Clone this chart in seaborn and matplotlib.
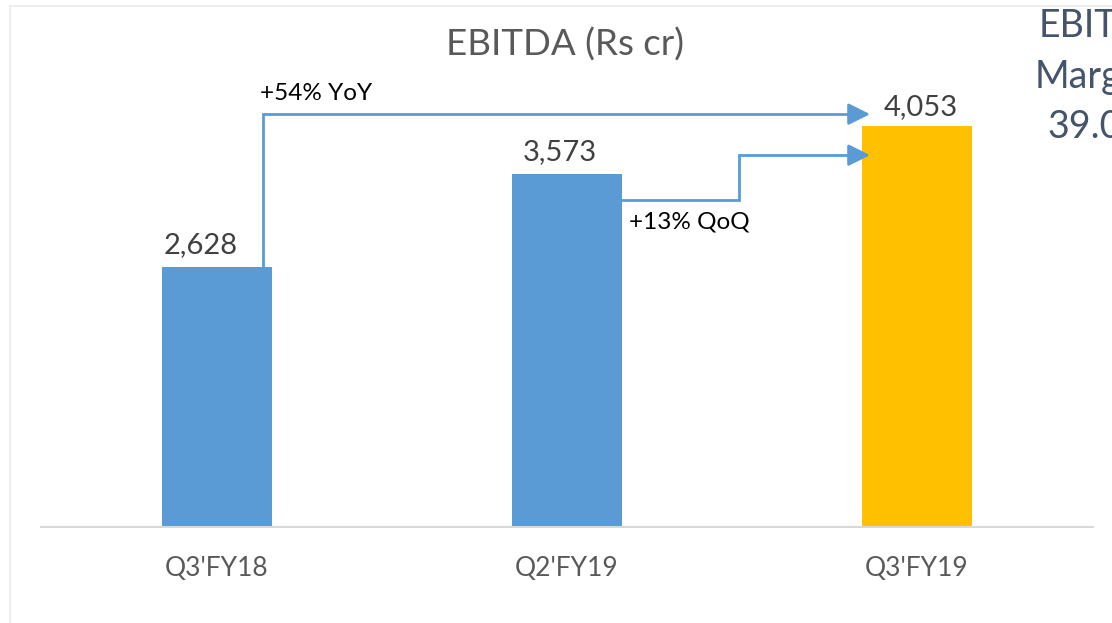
import matplotlib
matplotlib.use("Agg")
import matplotlib.pyplot as plt
from matplotlib.patches import Rectangle
import seaborn as sns
import pandas as pd

# Quarterly EBITDA, Rs crore
quarters = ["Q3'FY18", "Q2'FY19", "Q3'FY19"]
ebitda = [2628, 3573, 4053]
bar_colors = ["#5B9BD5", "#5B9BD5", "#FFC000"]
yoy_label = "+54% YoY"
qoq_label = "+13% QoQ"
side_lines = ["EBITDA", "Margin", "39.0%"]

sns.set_theme(style="white")
plt.rcParams["font.family"] = ["Lato", "DejaVu Sans"]

W, H = 1112, 623
fig = plt.figure(figsize=(W / 100, H / 100), dpi=100)
fig.patch.set_facecolor("white")

# light chart frame
fig.patches.append(Rectangle((9.5 / W, -0.05), 1.2, (H - 6) / H + 0.05,
                             transform=fig.transFigure, fill=False,
                             edgecolor="#EBEBEB", linewidth=1.2))

ax_left, ax_right = 41, 1093
ax_bottom_px, ax_top_px = 527, 5
ax = fig.add_axes([ax_left / W, (H - ax_bottom_px) / H,
                   (ax_right - ax_left) / W, (ax_bottom_px - ax_top_px) / H])

df = pd.DataFrame({"quarter": quarters, "ebitda": ebitda})
bar_w = 0.314
sns.barplot(data=df, x="quarter", y="ebitda", hue="quarter",
            palette=bar_colors, width=bar_w, legend=False, ax=ax,
            saturation=1, edgecolor="none")

ax.set_xlim(-0.503, 2.503)
ax.set_ylim(0, 5278)
for s in ["top", "right", "left"]:
    ax.spines[s].set_visible(False)
ax.spines["bottom"].set_color("#D9D9D9")
ax.spines["bottom"].set_linewidth(1.5)
ax.set_yticks([])
ax.set_xlabel("")
ax.set_ylabel("")
ax.tick_params(axis="x", length=0, pad=21, labelsize=19, labelcolor="#595959")
ax.patch.set_alpha(0)

# value labels above the bars (nudged sideways to clear the connectors)
label_dx = [-12, -5, 3]
label_dy = [10, 10, 8]
for i, v in enumerate(ebitda):
    ax.annotate(f"{v:,}", xy=(i, v), xytext=(label_dx[i], label_dy[i]),
                textcoords="offset points", ha="center", va="baseline",
                fontsize=21, color="#404040")

arrow_c = "#5B9BD5"
lw = 2.0
px_per_unit = (ax_bottom_px - ax_top_px) / 5278
head = "-|>,head_length=1.1,head_width=0.55"

# YoY connector: from first bar up and across to the latest bar
yoy_x0 = 0 + 46 / 350
yoy_y = ebitda[2] + 12 / px_per_unit
tip_x = 2 - bar_w / 2 + 8 / 350
ax.plot([yoy_x0, yoy_x0, tip_x - 0.03], [ebitda[0], yoy_y, yoy_y],
        color=arrow_c, lw=lw, solid_joinstyle="miter", clip_on=False)
ax.annotate("", xy=(tip_x, yoy_y), xytext=(tip_x - 0.06, yoy_y),
            arrowprops=dict(arrowstyle=head, color=arrow_c, lw=lw,
                            shrinkA=0, shrinkB=0))
ax.text(0 + 43 / 350, ebitda[2] + 26 / px_per_unit, yoy_label,
        ha="left", va="baseline", fontsize=17.5, color="black")

# QoQ connector: from second bar's side, step up, into the latest bar
qoq_x0 = 1 + bar_w / 2
qoq_y0 = ebitda[1] - 26 / px_per_unit
qoq_xm = 1 + 172 / 350
qoq_y1 = ebitda[2] - 29 / px_per_unit
ax.plot([qoq_x0, qoq_xm, qoq_xm, tip_x - 0.03], [qoq_y0, qoq_y0, qoq_y1, qoq_y1],
        color=arrow_c, lw=lw, solid_joinstyle="miter", clip_on=False)
ax.annotate("", xy=(tip_x, qoq_y1), xytext=(tip_x - 0.06, qoq_y1),
            arrowprops=dict(arrowstyle=head, color=arrow_c, lw=lw,
                            shrinkA=0, shrinkB=0))
ax.text(1 + 62 / 350, qoq_y0 - 29 / px_per_unit, qoq_label,
        ha="left", va="baseline", fontsize=17.5, color="black")

# chart title
fig.text(565 / W, (H - 56) / H, "EBITDA (Rs cr)", ha="center", va="baseline",
         fontsize=26.5, color="#595959")

# margin callout running off the right edge
for txt, x_px, base_px in zip(side_lines, [1039, 1035, 1047], [37, 88, 138]):
    fig.text(x_px / W, (H - base_px) / H, txt, ha="left", va="baseline",
             fontsize=27, color="#44546A")

fig.savefig("out.png", dpi=100)
